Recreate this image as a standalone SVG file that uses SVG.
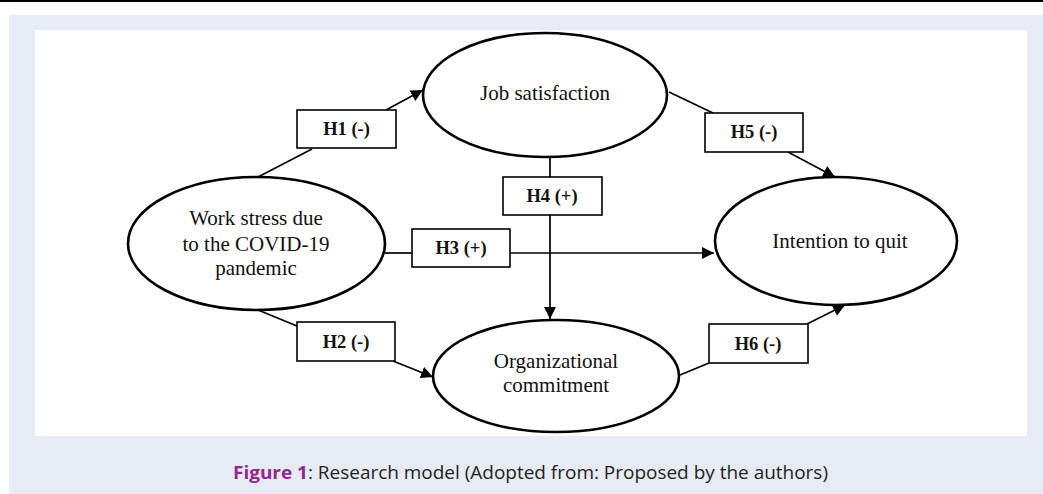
<svg xmlns="http://www.w3.org/2000/svg" width="1043" height="494" viewBox="0 0 1043 494">
<style>
.ell{fill:#fff;stroke:#000;stroke-width:2.6}
.box{fill:#fff;stroke:#000;stroke-width:1.6}
.con{fill:none;stroke:#000;stroke-width:1.7}
.nt{font-family:"Liberation Serif","Times New Roman",serif;font-size:21px;fill:#111;text-anchor:middle}
.bt{font-family:"Liberation Serif","Times New Roman",serif;font-size:18.5px;font-weight:bold;fill:#111;text-anchor:middle}
.cap{font-family:"Open Sans","Noto Sans",sans-serif;font-size:17.5px;fill:#231f20}
</style>
<defs>
<marker id="arr" markerUnits="userSpaceOnUse" markerWidth="13" markerHeight="12" refX="12" refY="6" orient="auto">
<path d="M0,0 L12,6 L0,12 z" fill="#000"/>
</marker>
</defs>
<rect x="0" y="0" width="1043" height="494" fill="#fff"/>
<line x1="0" y1="1" x2="1043" y2="1" stroke="#000" stroke-width="2"/>
<rect x="9" y="15" width="1034" height="479" fill="#e7ebf5"/>
<rect x="35" y="30" width="992" height="406" fill="#fff"/>

<g id="connectors">
<line class="con" x1="258" y1="177" x2="312" y2="149"/>
<line class="con" x1="386" y1="110" x2="423" y2="90" marker-end="url(#arr)"/>
<line class="con" x1="669" y1="92" x2="713" y2="113"/>
<line class="con" x1="788" y1="152" x2="835" y2="177" marker-end="url(#arr)"/>
<line class="con" x1="550" y1="157" x2="550" y2="177"/>
<line class="con" x1="550" y1="215" x2="550" y2="319" marker-end="url(#arr)"/>
<line class="con" x1="385" y1="253" x2="412" y2="253"/>
<line class="con" x1="510" y1="253" x2="714" y2="253" marker-end="url(#arr)"/>
<line class="con" x1="258" y1="310" x2="297" y2="326"/>
<line class="con" x1="393" y1="361" x2="433" y2="377" marker-end="url(#arr)"/>
<line class="con" x1="680" y1="375" x2="709" y2="363"/>
<line class="con" x1="807" y1="324" x2="845" y2="305" marker-end="url(#arr)"/>
</g>

<g id="job-satisfaction">
<ellipse class="ell" cx="545" cy="95" rx="122" ry="62"/>
<text class="nt" x="545" y="100">Job satisfaction</text>
</g>
<g id="work-stress">
<ellipse class="ell" cx="256.5" cy="243.5" rx="128.5" ry="66.5"/>
<text class="nt" x="256" y="225">Work stress due</text>
<text class="nt" x="256" y="251">to the COVID-19</text>
<text class="nt" x="256" y="275">pandemic</text>
</g>
<g id="intention-to-quit">
<ellipse class="ell" cx="836" cy="241" rx="121" ry="64"/>
<text class="nt" x="840" y="248">Intention to quit</text>
</g>
<g id="organizational-commitment">
<ellipse class="ell" cx="556" cy="376" rx="123" ry="56"/>
<text class="nt" x="556" y="368">Organizational</text>
<text class="nt" x="556" y="392">commitment</text>
</g>

<g id="h1"><rect class="box" x="297" y="110" width="99" height="38"/><text class="bt" x="346.5" y="135">H1 (-)</text></g>
<g id="h5"><rect class="box" x="705" y="113" width="98" height="39"/><text class="bt" x="754" y="138">H5 (-)</text></g>
<g id="h4"><rect class="box" x="503" y="177" width="99" height="38"/><text class="bt" x="552" y="202">H4 (+)</text></g>
<g id="h3"><rect class="box" x="412" y="229" width="98" height="38"/><text class="bt" x="461" y="254">H3 (+)</text></g>
<g id="h2"><rect class="box" x="297" y="322" width="98" height="39"/><text class="bt" x="346" y="348">H2 (-)</text></g>
<g id="h6"><rect class="box" x="709" y="324" width="99" height="39"/><text class="bt" x="758" y="350">H6 (-)</text></g>

<text class="cap" x="233" y="479" textLength="595" lengthAdjust="spacingAndGlyphs"><tspan font-weight="bold" fill="#92278f">Figure 1</tspan>: Research model (Adopted from: Proposed by the authors)</text>
</svg>
